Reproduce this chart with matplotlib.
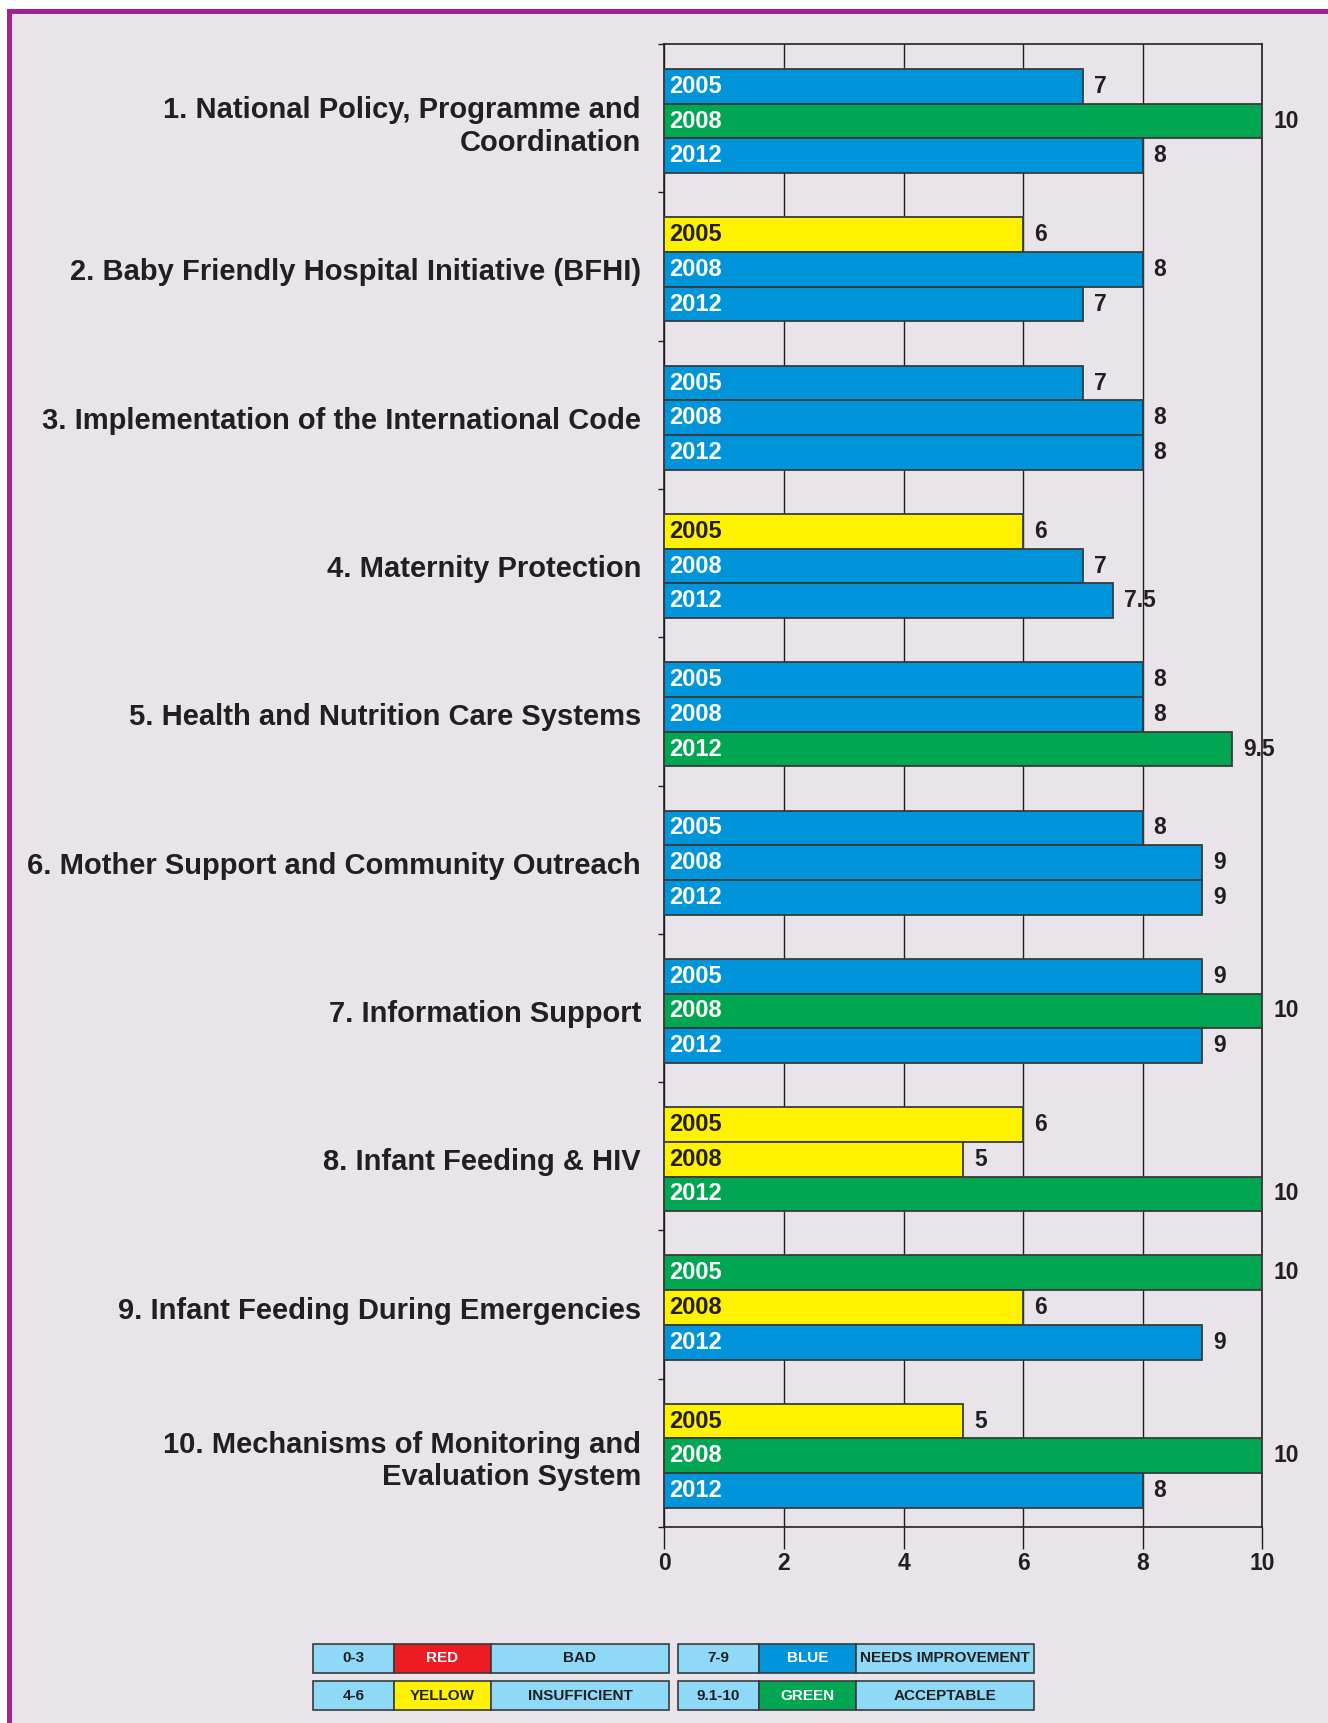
import matplotlib
matplotlib.use("Agg")
import matplotlib.pyplot as plt
from matplotlib.patches import Rectangle
from matplotlib import font_manager

# ---------------- data ----------------
categories = [
    "1. National Policy, Programme and\nCoordination",
    "2. Baby Friendly Hospital Initiative (BFHI)",
    "3. Implementation of the International Code",
    "4. Maternity Protection",
    "5. Health and Nutrition Care Systems",
    "6. Mother Support and Community Outreach",
    "7. Information Support",
    "8. Infant Feeding & HIV",
    "9. Infant Feeding During Emergencies",
    "10. Mechanisms of Monitoring and\nEvaluation System",
]
years = ["2005", "2008", "2012"]
scores_2005 = [7, 6, 7, 6, 8, 8, 9, 6, 10, 5]
scores_2008 = [10, 8, 8, 7, 8, 9, 10, 5, 6, 10]
scores_2012 = [8, 7, 8, 7.5, 9.5, 9, 9, 10, 9, 8]
x_ticks = [0, 2, 4, 6, 8, 10]

legend_ranges = ["0-3", "4-6", "7-9", "9.1-10"]
legend_names = ["RED", "YELLOW", "BLUE", "GREEN"]
legend_desc = ["BAD", "INSUFFICIENT", "NEEDS IMPROVEMENT", "ACCEPTABLE"]

# ---------------- style ----------------
BG = "#E9E3EA"
PURPLE = "#A3228E"
RED = "#ED1C24"
YELLOW = "#FFF200"
BLUE = "#0095DA"
GREEN = "#00A651"
LIGHT = "#8ED8F8"
INK = "#231F20"
EDGE = "#3A3A3A"

available = {f.name for f in font_manager.fontManager.ttflist}
MAIN = ["Liberation Sans", "DejaVu Sans"]
NARROW = (["Liberation Sans Narrow"] if "Liberation Sans Narrow" in available else []) + MAIN
plt.rcParams["font.family"] = MAIN

def color_for(v):
    if v <= 3:
        return RED
    if v <= 6:
        return YELLOW
    if v <= 9:
        return BLUE
    return GREEN

W, H = 1328, 1723
fig = plt.figure(figsize=(W / 100, H / 100), dpi=100, facecolor=BG)

def fx(px):
    return px / W

def fy(py):
    return 1 - py / H

# border: white outside, purple frame on top & left
fig.add_artist(Rectangle((0, fy(9)), 1, 9 / H, transform=fig.transFigure, facecolor="white", edgecolor="none", zorder=0))
fig.add_artist(Rectangle((0, 0), 7 / W, 1, transform=fig.transFigure, facecolor="white", edgecolor="none", zorder=0))
fig.add_artist(Rectangle((fx(7), fy(14)), 1, 5 / H, transform=fig.transFigure, facecolor=PURPLE, edgecolor="none", zorder=1))
fig.add_artist(Rectangle((fx(7), 0), 5 / W, fy(9), transform=fig.transFigure, facecolor=PURPLE, edgecolor="none", zorder=1))

# main axes
ax_left, ax_right, ax_top, ax_bot = 664.5, 1262, 44, 1527
ax = fig.add_axes([fx(ax_left), fy(ax_bot), (ax_right - ax_left) / W, (ax_bot - ax_top) / H])
ax.set_facecolor("none")

n = len(categories)
bar_h = 0.234
series = [scores_2005, scores_2008, scores_2012]
for j, (yr, vals) in enumerate(zip(years, series)):
    for i, v in enumerate(vals):
        y = i + (j - 1) * bar_h
        c = color_for(v)
        ax.barh(y, v, height=bar_h, color=c, edgecolor=EDGE, linewidth=1.3, zorder=3)
        ax.annotate(yr, xy=(0, y), xytext=(3.5, 0), textcoords="offset points",
                    ha="left", va="center", fontsize=17, fontweight="bold",
                    color=(INK if c == YELLOW else "white"), family=NARROW, zorder=4)
        lab = f"{v:g}"
        ax.annotate(lab, xy=(v, y), xytext=(8, 0), textcoords="offset points",
                    ha="left", va="center", fontsize=16.5, fontweight="bold",
                    color=INK, family=NARROW, zorder=4, annotation_clip=False)

ax.set_xlim(0, 10)
ax.set_ylim(9.48, -0.52)
ax.set_xticks(x_ticks)
ax.set_xticklabels([str(t) for t in x_ticks], fontsize=16.5, fontweight="bold", color=INK, family=NARROW)
ax.tick_params(axis="x", direction="out", length=16, width=1.0, color=INK, pad=2)
ax.grid(axis="x", color=INK, linewidth=1.0, zorder=1)
ax.set_axisbelow(True)

ax.set_yticks(range(n))
ax.set_yticklabels(categories, fontsize=21, fontweight="bold", color=INK, linespacing=1.2)
ax.tick_params(axis="y", which="major", length=0, pad=17)
ax.set_yticks([-0.52 + k for k in range(n + 1)], minor=True)
ax.tick_params(axis="y", which="minor", direction="out", length=4, width=1.0, color=INK)

for s in ax.spines.values():
    s.set_color(INK)
    s.set_linewidth(1.2)

# ---------------- legend tables ----------------
def legend_row(x0, y0, rng, name, desc, fill):
    widths = [81, 97, 178]
    h = 29
    cells = [(rng, LIGHT, INK), (name, fill, INK if fill == YELLOW else "white"), (desc, LIGHT, INK)]
    x = x0
    for (txt, fc, tc), w in zip(cells, widths):
        fig.add_artist(Rectangle((fx(x), fy(y0 + h)), w / W, h / H, transform=fig.transFigure,
                                 facecolor=fc, edgecolor=EDGE, linewidth=1.2, zorder=2))
        fig.text(fx(x + w / 2), fy(y0 + h / 2), txt, ha="center", va="center",
                 fontsize=11, fontweight="bold", color=tc, family=NARROW, zorder=3)
        x += w

fills = [RED, YELLOW, BLUE, GREEN]
positions = [(313, 1644), (313, 1681), (678, 1644), (678, 1681)]
for (x0, y0), rng, nm, ds, fc in zip(positions, legend_ranges, legend_names, legend_desc, fills):
    legend_row(x0, y0, rng, nm, ds, fc)

fig.savefig("out.png", dpi=100, facecolor=BG)
